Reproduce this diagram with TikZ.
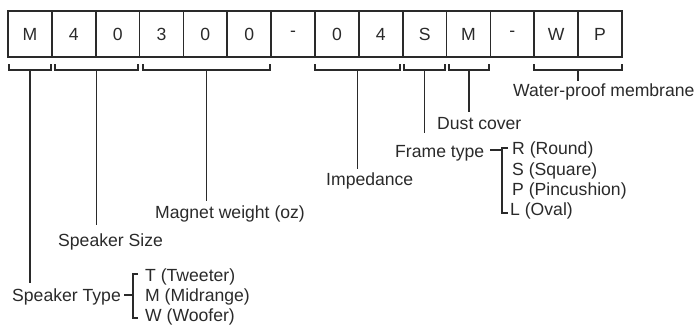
\documentclass[tikz,border=0pt]{standalone}
\usepackage{fontspec}
\setmainfont{Liberation Sans}
\definecolor{ink}{HTML}{2A2A2A}
\begin{document}
\begin{tikzpicture}[x=1pt,y=-1pt,
  cell/.style={draw=ink, line width=1.7pt, minimum width=43.86pt, minimum height=46pt, inner sep=0pt, font=\fontsize{17.6}{20}\selectfont, text=ink},
  lbl/.style={anchor=base west, inner sep=0pt, font=\fontsize{17.6}{20}\selectfont, text=ink},
  ln/.style={draw=ink, line width=1.7pt}]
\useasboundingbox (0,0) rectangle (700,325);
% code boxes
\foreach \t [count=\i] in {M,4,0,3,0,0,-,0,4,S,M,-,W,P}
  \node[cell] (b\i) at ({8+43.857*(\i-0.5)},34) {\t};
% labels
\node[lbl] (st) at (12,301) {Speaker Type};
\node[lbl] (ss) at (58,246) {Speaker Size};
\node[lbl] (mw) at (155,218) {Magnet weight (oz)};
\node[lbl] (imp) at (326,185) {Impedance};
\node[lbl] (ft) at (395,157) {Frame type};
\node[lbl] (dc) at (437,129) {Dust cover};
\node[lbl] (wp) at (513,96) {Water-proof membrane};
% option lists
\node[lbl] (t1) at (145,281) {T (Tweeter)};
\node[lbl] (t2) at (145,301) {M (Midrange)};
\node[lbl] (t3) at (145,321) {W (Woofer)};
\node[lbl] (f1) at (512,154) {R (Round)};
\node[lbl] (f2) at (512,175) {S (Square)};
\node[lbl] (f3) at (512,195) {P (Pincushion)};
\node[lbl] (f4) at (510,215) {L (Oval)};
% brackets under the boxes
\foreach \a/\b/\n in {9/51/1, 55/138/2, 143/270/3, 315/400/4, 404/445/5, 449/489/6, 534/622/7}{
  \draw[ln] (\a,64) -- (\a,70) -- (\b,70) -- (\b,64);
  \coordinate (s\n) at ({(\a+\b)/2},70);
}
% stems to labels
\draw[ln] (s1) -- ([yshift=5pt]s1 |- st.north);
\draw[ln] (s2) -- ([yshift=8pt]s2 |- ss.north);
\draw[ln] (s3) -- ([yshift=4pt]s3 |- mw.north);
\draw[ln] (s4) -- ([yshift=3pt]s4 |- imp.north);
\draw[ln] (s5) -- ([yshift=12pt]s5 |- ft.north);
\draw[ln] (s6) -- ([yshift=5pt]s6 |- dc.north);
\draw[ln] (s7) -- ([yshift=2pt]s7 |- wp.north);
% braces
\coordinate (stA) at (124,295);
\coordinate (stB) at (133,295);
\draw[ln] (stA) -- (stB);
\draw[ln] (138,274) -- (133,274) -- (133,318) -- (138,318);
\coordinate (ftA) at (490,150);
\coordinate (ftB) at (502,150);
\draw[ln] (ftA) -- (ftB);
\draw[ln] (508,148) -- (502,148) -- (502,213) -- (508,213);
\end{tikzpicture}
\end{document}
